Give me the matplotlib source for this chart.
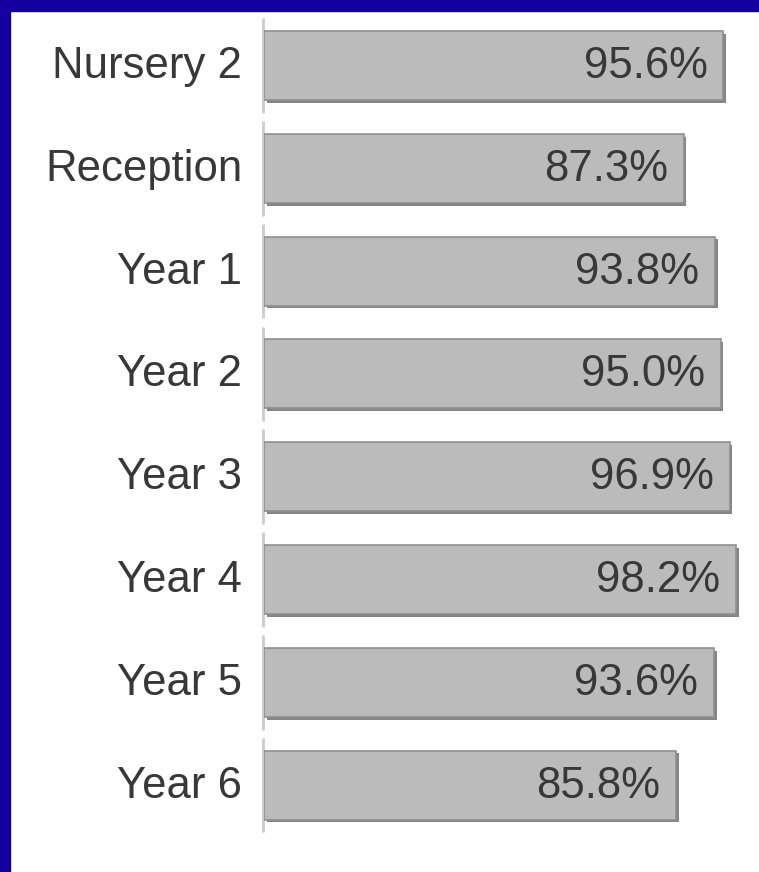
import numpy as np
import matplotlib
matplotlib.use("Agg")
import matplotlib.pyplot as plt
import matplotlib.patheffects as pe
from matplotlib.patches import Rectangle

categories = ["Nursery 2", "Reception", "Year 1", "Year 2",
              "Year 3", "Year 4", "Year 5", "Year 6"]
values = [95.6, 87.3, 93.8, 95.0, 96.9, 98.2, 93.6, 85.8]
labels = [f"{v:.1f}%" for v in values]

W, H, DPI = 759, 872, 100
fig = plt.figure(figsize=(W / DPI, H / DPI), dpi=DPI)
fig.patch.set_facecolor("white")

# blue frame on top and left
blue = "#1400a0"
fig.patches.append(Rectangle((0, 1 - 11 / H), 1, 11 / H, transform=fig.transFigure,
                             color=blue, zorder=0))
fig.patches.append(Rectangle((0, 0), 10 / W, 1, transform=fig.transFigure,
                             color=blue, zorder=0))

ax = fig.add_axes([264 / W, 1 - 836.5 / H, 480.6 / W, 822.4 / H])
ax.set_facecolor("none")
ypos = np.arange(len(categories))

shadow = [pe.SimplePatchShadow(offset=(2.0, -2.0), shadow_rgbFace="#858585", alpha=1.0),
          pe.Normal()]
bars = ax.barh(ypos, values, height=0.67, color="#bbbbbb", edgecolor="#8f8f8f",
               linewidth=1.2, zorder=2)
for b in bars:
    b.set_path_effects(shadow)

txt_color = "#383838"
fs = 31.5
for y, v, lab in zip(ypos, values, labels):
    ax.text(v - 3.3, y + 0.01, lab, ha="right", va="center", fontsize=fs,
            family="Liberation Sans", color=txt_color, zorder=3)
    ax.text(-4.5, y + 0.01, categories[y], ha="right", va="center", fontsize=fs,
            family="Liberation Sans", color=txt_color, clip_on=False)
    # broken axis line, one segment per category
    ax.plot([-0.2, -0.2], [y - 0.46, y + 0.46], color="#cccccc", lw=2.0,
            solid_capstyle="butt", zorder=1, clip_on=False)

ax.set_xlim(0, 100)
ax.set_ylim(len(categories) - 0.5, -0.5)
ax.axis("off")

fig.savefig("out.png", dpi=DPI)
